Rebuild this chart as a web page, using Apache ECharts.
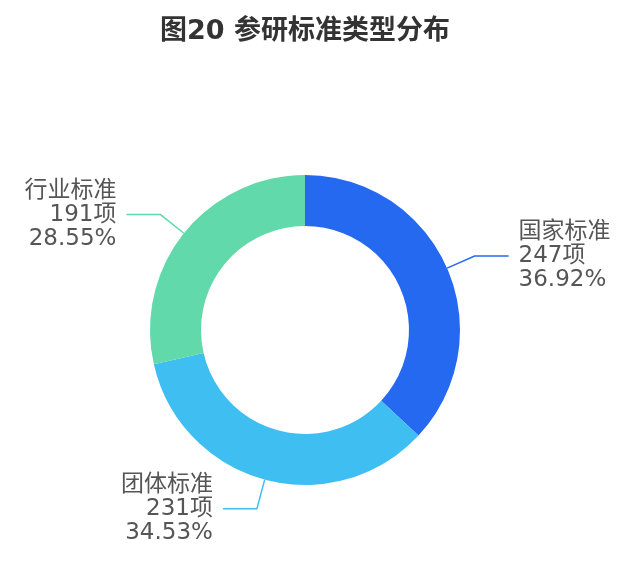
<!DOCTYPE html>
<html>
<head>
<meta charset="utf-8">
<script src="https://cdn.jsdelivr.net/npm/echarts@6/dist/echarts.min.js"></script>
<style>html,body{margin:0;padding:0;background:#fff;}#c{width:630px;height:564px;}</style>
</head>
<body>
<div id="c"></div>
<script>
const categories = ['国家标准', '团体标准', '行业标准'];
const values = [247, 231, 191];
const colors = ['#2469EF', '#3FBEF1', '#62D9AA'];

const chart = echarts.init(document.getElementById('c'));
chart.setOption({
  animation: false,
  title: {
    text: '图20 参研标准类型分布',
    left: 155,
    top: 13,
    textStyle: { fontFamily: '"DejaVu Sans", "Noto Sans CJK SC"', fontSize: 27, fontWeight: 'bold', color: '#333' }
  },
  series: [{
    type: 'pie',
    center: [305, 330],
    radius: [104, 155],
    startAngle: 90,
    clockwise: true,
    avoidLabelOverlap: false,
    data: categories.map((n, i) => ({ name: n, value: values[i], itemStyle: { color: colors[i] } })),
    label: {
      formatter: '{b}\n{c}项\n{d}%',
      fontFamily: '"DejaVu Sans", "Noto Sans CJK SC"',
      fontSize: 23,
      lineHeight: 24,
      color: '#555',
      distanceToLabelLine: 10
    },
    labelLine: { length: 30, length2: 34, lineStyle: { width: 1.5 } }
  }]
});
</script>
</body>
</html>
